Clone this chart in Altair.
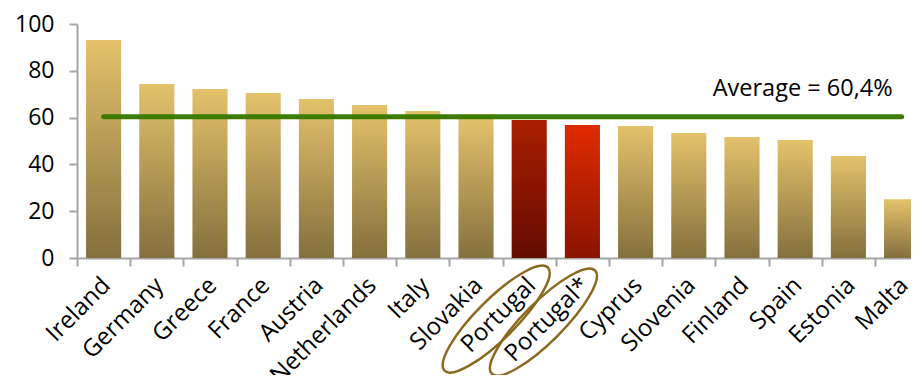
import json
import altair as alt
import pandas as pd

countries = ["Ireland", "Germany", "Greece", "France", "Austria", "Netherlands",
             "Italy", "Slovakia", "Portugal", "Portugal*", "Cyprus", "Slovenia",
             "Finland", "Spain", "Estonia", "Malta"]
values = [93.2, 74.4, 72.2, 70.5, 68.0, 65.4, 62.8, 60.0, 59.0, 56.8, 56.4,
          53.4, 51.7, 50.4, 43.6, 25.1]
groups = ["other"] * 8 + ["portugal", "portugal_star"] + ["other"] * 6
average_value = 60.4
average_label = "Average = 60,4%"
highlighted = ["Portugal", "Portugal*"]
y_ticks = [0, 20, 40, 60, 80, 100]

n = len(countries)
df = pd.DataFrame({"country": countries, "value": values, "group": groups,
                   "idx": list(range(n))})
avg_df = pd.DataFrame({"avg": [average_value], "label": [average_label],
                       "first": [0], "last": [n - 1]})
hl_df = pd.DataFrame({"country": highlighted,
                      "idx": [countries.index(c) for c in highlighted]})

FONT = "Open Sans"
AXIS_GREY = "#a6a6a6"
PLOT_W = 834
STEP = 53.2  # pixel width of one category slot (the last slot runs past the page edge)

xscale = alt.Scale(domain=[0, PLOT_W / STEP], nice=False, zero=False, padding=0)
yscale = alt.Scale(domain=[0, 100], nice=False, padding=0)

label_expr = json.dumps(countries) + "[datum.value]"
x_axis = alt.Axis(title=None, values=list(range(n)), labelExpr=label_expr,
                  labelAngle=315, labelFont=FONT, labelFontSize=24,
                  labelColor="#000000", labelPadding=7,
                  labelOffset=STEP / 2 - 6, labelOverlap=False, labelFlush=False,
                  tickSize=8, tickColor=AXIS_GREY, tickWidth=2,
                  domainColor=AXIS_GREY, domainWidth=2, grid=False)
y_axis = alt.Axis(title=None, values=y_ticks, labelFont=FONT, labelFontSize=23,
                  labelColor="#000000", labelPadding=15, tickSize=8,
                  tickColor=AXIS_GREY, tickWidth=2, domainColor=AXIS_GREY,
                  domainWidth=2, grid=False)

Y = alt.Y("value:Q", scale=yscale, axis=y_axis)


def grad(top, bottom):
    return alt.LinearGradient(
        gradient="linear", x1=0, y1=0, x2=0, y2=1,
        stops=[alt.GradientStop(offset=0, color=top),
               alt.GradientStop(offset=1, color=bottom)])


base = alt.Chart(df).transform_calculate(
    x0="datum.idx + 0.17", x1="datum.idx + 0.83"
)


def bar_layer(group, top, bottom):
    return base.transform_filter(alt.datum.group == group).mark_bar(
        fill=grad(top, bottom), orient="vertical"
    ).encode(
        x=alt.X("x0:Q", scale=xscale, axis=x_axis),
        x2="x1:Q",
        y=Y,
        y2=alt.datum(0),
    )


bars_other = bar_layer("other", "#E4C26B", "#84703E")
bars_pt = bar_layer("portugal", "#AA1E00", "#640C00")
bars_pts = bar_layer("portugal_star", "#E02B00", "#8A1400")

avg_base = alt.Chart(avg_df).transform_calculate(
    xa="datum.first + 0.5", xb="datum.last + 0.5"
)
avg_rule = avg_base.mark_rule(
    color="#3D7A00", strokeWidth=5, strokeCap="round"
).encode(
    x=alt.X("xa:Q", scale=xscale, axis=x_axis),
    x2="xb:Q",
    y=alt.Y("avg:Q", scale=yscale, axis=y_axis),
)
avg_text = avg_base.mark_text(
    align="right", baseline="alphabetic", dx=-9, dy=-21,
    font=FONT, fontSize=23.5, color="#000000"
).encode(
    x=alt.X("xb:Q", scale=xscale, axis=x_axis),
    y=alt.Y("avg:Q", scale=yscale, axis=y_axis),
    text="label:N",
)

# ellipse outline (unit path, scaled by symbol size)
k = 0.5523
r = 0.27
ellipse_path = (
    f"M 1 0 C 1 {r*k:.4f} {k:.4f} {r} 0 {r} "
    f"C {-k:.4f} {r} -1 {r*k:.4f} -1 0 "
    f"C -1 {-r*k:.4f} {-k:.4f} {-r} 0 {-r} "
    f"C {k:.4f} {-r} 1 {-r*k:.4f} 1 0 Z"
)

ell_layers = []
for i, (xoff, ydat) in enumerate(zip([-33, -39], [-26.1, -27.4])):
    ell = alt.Chart(hl_df.iloc[[i]]).transform_calculate(
        xc="datum.idx + 0.5"
    ).mark_point(
        shape=ellipse_path, size=146 * 146, angle=315, filled=False,
        stroke="#8B6A1F", strokeWidth=2.5, opacity=1, xOffset=xoff
    ).encode(
        x=alt.X("xc:Q", scale=xscale, axis=x_axis),
        y=alt.Y(datum=ydat, scale=yscale, axis=y_axis),
    )
    ell_layers.append(ell)

chart = alt.layer(bars_other, bars_pt, bars_pts, avg_rule, avg_text, *ell_layers).properties(
    width=PLOT_W, height=234,
    autosize=alt.AutoSizeParams(type="none"),
    padding={"left": 69, "top": 16, "right": 0, "bottom": 117},
    background="white",
).configure_view(stroke=None)

chart.save("out.html", embed_options={"renderer": "svg", "actions": False})
